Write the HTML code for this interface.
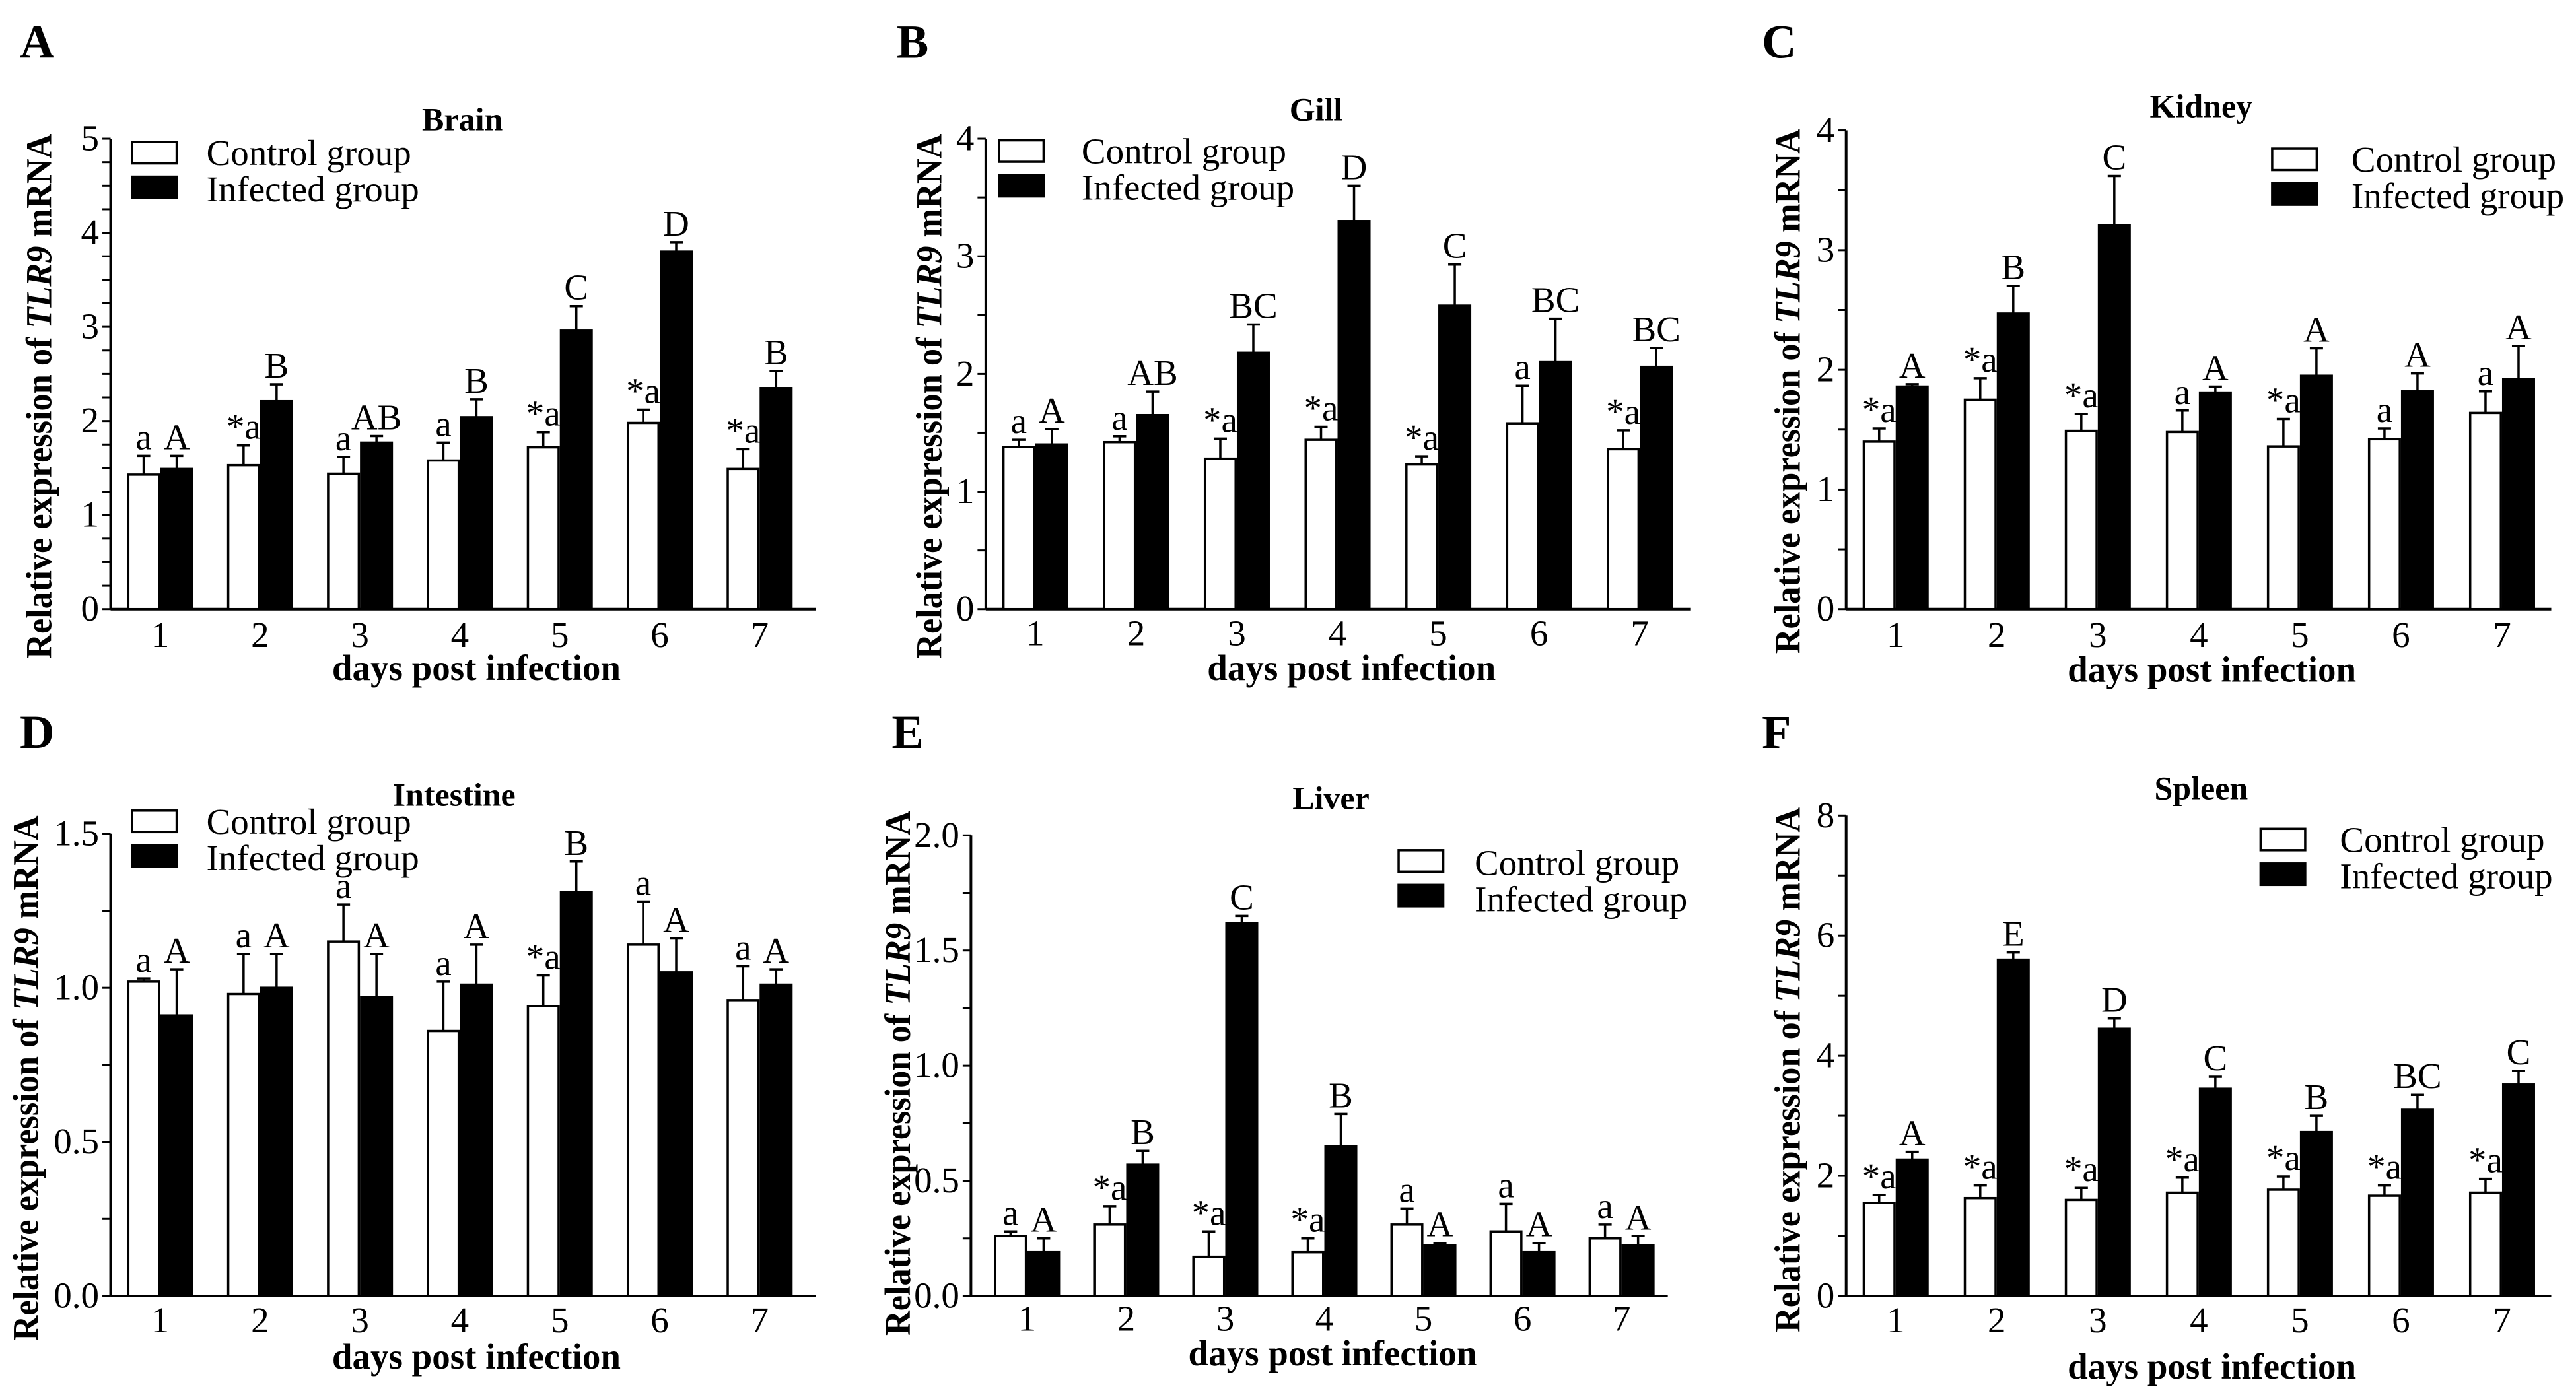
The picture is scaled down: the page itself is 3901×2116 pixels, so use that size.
<!DOCTYPE html>
<html><head><meta charset="utf-8"><style>
html,body{margin:0;padding:0;background:#fff;}
svg, svg text{font-family:"Liberation Serif","Times New Roman",Times,"DejaVu Serif",serif;}
</style></head><body>
<svg id="fig" width="3901" height="2111" viewBox="0 0 1560 844.2" preserveAspectRatio="none" xmlns="http://www.w3.org/2000/svg"></svg>
<script>
const days = ["1","2","3","4","5","6","7"];
const brainControl = [1.43,1.53,1.44,1.58,1.72,1.98,1.49];
const brainControlErr = [1.63,1.74,1.62,1.77,1.88,2.12,1.70];
const brainInfected = [1.49,2.21,1.77,2.04,2.96,3.80,2.35];
const brainInfectedErr = [1.63,2.39,1.84,2.23,3.22,3.90,2.53];
const brainControlLbl = ["a","*a","a","a","*a","*a","*a"];
const brainInfectedLbl = ["A","B","AB","B","C","D","B"];

const gillControl = [1.38,1.42,1.28,1.44,1.23,1.58,1.36];
const gillControlErr = [1.44,1.47,1.45,1.55,1.30,1.90,1.52];
const gillInfected = [1.40,1.65,2.18,3.30,2.58,2.10,2.06];
const gillInfectedErr = [1.53,1.85,2.42,3.60,2.93,2.47,2.22];
const gillControlLbl = ["a","a","*a","*a","*a","a","*a"];
const gillInfectedLbl = ["A","AB","BC","D","C","BC","BC"];

const kidneyControl = [1.40,1.75,1.49,1.48,1.36,1.42,1.64];
const kidneyControlErr = [1.51,1.93,1.63,1.66,1.59,1.51,1.82];
const kidneyInfected = [1.86,2.47,3.21,1.81,1.95,1.82,1.92];
const kidneyInfectedErr = [1.88,2.70,3.62,1.86,2.18,1.97,2.20];
const kidneyControlLbl = ["*a","*a","*a","a","*a","a","a"];
const kidneyInfectedLbl = ["A","B","C","A","A","A","A"];

const intestineControl = [1.02,0.98,1.15,0.86,0.94,1.14,0.96];
const intestineControlErr = [1.03,1.11,1.27,1.02,1.04,1.28,1.07];
const intestineInfected = [0.91,1.00,0.97,1.01,1.31,1.05,1.01];
const intestineInfectedErr = [1.06,1.11,1.11,1.14,1.41,1.16,1.06];
const intestineControlLbl = ["a","a","a","a","*a","a","a"];
const intestineInfectedLbl = ["A","A","A","A","B","A","A"];

const liverControl = [0.26,0.31,0.17,0.19,0.31,0.28,0.25];
const liverControlErr = [0.28,0.39,0.28,0.25,0.38,0.40,0.31];
const liverInfected = [0.19,0.57,1.62,0.65,0.22,0.19,0.22];
const liverInfectedErr = [0.25,0.63,1.65,0.79,0.23,0.23,0.26];
const liverControlLbl = ["a","*a","*a","*a","a","a","a"];
const liverInfectedLbl = ["A","B","C","B","A","A","A"];

const spleenControl = [1.55,1.63,1.60,1.72,1.77,1.67,1.72];
const spleenControlErr = [1.68,1.84,1.80,1.97,1.99,1.84,1.95];
const spleenInfected = [2.27,5.60,4.45,3.45,2.73,3.10,3.52];
const spleenInfectedErr = [2.40,5.72,4.62,3.65,3.00,3.35,3.75];
const spleenControlLbl = ["*a","*a","*a","*a","*a","*a","*a"];
const spleenInfectedLbl = ["A","E","D","C","B","BC","C"];

const brainTicks = ["0","1","2","3","4","5"];
const gillTicks = ["0","1","2","3","4"];
const kidneyTicks = ["0","1","2","3","4"];
const intestineTicks = ["0.0","0.5","1.0","1.5"];
const liverTicks = ["0.0","0.5","1.0","1.5","2.0"];
const spleenTicks = ["0","2","4","6","8"];

const NS="http://www.w3.org/2000/svg";
const svg=document.getElementById('fig');
function mk(tag,attrs,parent){const e=document.createElementNS(NS,tag);for(const k in attrs)e.setAttribute(k,attrs[k]);if(tag==='text'){e.style.fontFamily='"Liberation Serif","Times New Roman",Times,"DejaVu Serif",serif';}(parent||svg).appendChild(e);return e;}

const panels=[
 {key:"brain",letter:"A",title:"Brain",ax:67,top:84,bot:369,right:494,c0:97,dc:60.5,ymax:5,minor:0.25,ticks:brainTicks,
  c:brainControl,ce:brainControlErr,i:brainInfected,ie:brainInfectedErr,cl:brainControlLbl,il:brainInfectedLbl,
  lx:31,lyc:240,lbx:80,lby:86,ltx:125,lty:93,titleX:280,titleY:79,letX:12,letY:35,tickY:392,xlY:412},
 {key:"gill",letter:"B",title:"Gill",ax:597,top:84,bot:369,right:1024,c0:627,dc:61,ymax:4,minor:0.5,ticks:gillTicks,
  c:gillControl,ce:gillControlErr,i:gillInfected,ie:gillInfectedErr,cl:gillControlLbl,il:gillInfectedLbl,
  lx:570,lyc:240,lbx:605,lby:85,ltx:655,lty:92,titleX:797,titleY:73,letX:543,letY:35,tickY:391,xlY:412},
 {key:"kidney",letter:"C",title:"Kidney",ax:1118,top:79,bot:369,right:1545,c0:1148,dc:61.2,ymax:4,minor:0.5,ticks:kidneyTicks,
  c:kidneyControl,ce:kidneyControlErr,i:kidneyInfected,ie:kidneyInfectedErr,cl:kidneyControlLbl,il:kidneyInfectedLbl,
  lx:1090,lyc:237,lbx:1376,lby:90,ltx:1424,lty:97,titleX:1333,titleY:71,letX:1067,letY:35,tickY:392,xlY:413},
 {key:"intestine",letter:"D",title:"Intestine",ax:67,top:505,bot:785,right:494,c0:97,dc:60.5,ymax:1.5,minor:0.25,ticks:intestineTicks,
  c:intestineControl,ce:intestineControlErr,i:intestineInfected,ie:intestineInfectedErr,cl:intestineControlLbl,il:intestineInfectedLbl,
  lx:23,lyc:653,lbx:80,lby:491,ltx:125,lty:498,titleX:275,titleY:488,letX:12,letY:453,tickY:807,xlY:829},
 {key:"liver",letter:"E",title:"Liver",ax:588,top:506,bot:785,right:1010,c0:622,dc:60,ymax:2.0,minor:0.25,ticks:liverTicks,
  c:liverControl,ce:liverControlErr,i:liverInfected,ie:liverInfectedErr,cl:liverControlLbl,il:liverInfectedLbl,
  lx:551,lyc:650,lbx:847,lby:515,ltx:893,lty:523,titleX:806,titleY:490,letX:540,letY:453,tickY:806,xlY:827},
 {key:"spleen",letter:"F",title:"Spleen",ax:1118,top:494,bot:785,right:1545,c0:1148,dc:61.2,ymax:8,minor:1,ticks:spleenTicks,
  c:spleenControl,ce:spleenControlErr,i:spleenInfected,ie:spleenInfectedErr,cl:spleenControlLbl,il:spleenInfectedLbl,
  lx:1090,lyc:648,lbx:1369,lby:502,ltx:1417,lty:509,titleX:1333,titleY:484,letX:1067,letY:453,tickY:807,xlY:835}
];

panels.forEach(p=>{
  const g=mk('g',{});
  
  
  const y=v=>p.bot-(v/p.ymax)*(p.bot-p.top);
  const xc=k=>p.c0+k*p.dc;
  const bw=20;
  const L=mk('text',{x:p.letX,y:p.letY,'font-size':29,'font-weight':'bold'},g);L.textContent=p.letter;
  
  const T=mk('text',{x:p.titleX,y:p.titleY,'font-size':20,'font-weight':'bold','text-anchor':'middle'},g);T.textContent=p.title;
  
  const ya=mk('line',{x1:p.ax,y1:p.top,x2:p.ax,y2:p.bot,stroke:'#000','stroke-width':1.6},g);
  
  const xa=mk('line',{x1:p.ax,y1:p.bot,x2:p.right,y2:p.bot,stroke:'#000','stroke-width':1.6},g);
  
  for(let v=0;v<=p.ymax+1e-9;v+=p.minor){
    mk('line',{x1:p.ax-5,y1:y(v),x2:p.ax,y2:y(v),stroke:'#000','stroke-width':1.2},g);
  }
  const step=p.ymax/(p.ticks.length-1);
  p.ticks.forEach((t,k)=>{
    const tt=mk('text',{x:p.ax-7,y:y(k*step)+7,'font-size':22,'text-anchor':'end'},g);tt.textContent=t;
    
  });
  const yl=mk('text',{transform:`translate(${p.lx},${p.lyc}) rotate(-90)`,'font-size':22,'font-weight':'bold','text-anchor':'middle',textLength:318,lengthAdjust:'spacingAndGlyphs'},g);
  yl.appendChild(document.createTextNode('Relative expression of '));
  const ts=document.createElementNS(NS,'tspan');ts.setAttribute('font-style','italic');ts.textContent='TLR9';yl.appendChild(ts);
  yl.appendChild(document.createTextNode(' mRNA'));
  
  const xl=mk('text',{x:(p.ax+p.right)/2+8,y:p.xlY,'font-size':22,'font-weight':'bold','text-anchor':'middle'},g);xl.textContent='days post infection';
  
  days.forEach((d,k)=>{
    const dt=mk('text',{x:xc(k),y:p.tickY,'font-size':22,'text-anchor':'middle'},g);dt.textContent=d;
    
    [[p.c,p.ce,p.cl,'#fff',-bw,'control'],[p.i,p.ie,p.il,'#000',0,'infected']].forEach(s=>{
      const v=s[0][k],e=s[1][k],x0=xc(k)+s[4];
      const ec=x0+bw/2;
      const el=mk('line',{x1:ec,y1:y(v),x2:ec,y2:y(e),stroke:'#000','stroke-width':1.4},g);
      
      mk('line',{x1:ec-4,y1:y(e),x2:ec+4,y2:y(e),stroke:'#000','stroke-width':1.4},g);
      const r=mk('rect',{x:x0+0.7,y:y(v),width:bw-1.4,height:p.bot-y(v),fill:s[3],stroke:'#000','stroke-width':1.4},g);
      
      const lt=mk('text',{x:ec,y:y(e)-4,'font-size':22,'text-anchor':'middle'},g);lt.textContent=s[2][k];
      
    });
  });
  const lg=mk('g',{},g);
  
  const r1=mk('rect',{x:p.lbx,y:p.lby,width:27,height:13,fill:'#fff',stroke:'#000','stroke-width':1.4},lg);
  
  const r2=mk('rect',{x:p.lbx,y:p.lby+21,width:27,height:13,fill:'#000',stroke:'#000','stroke-width':1.4},lg);
  
  const t1=mk('text',{x:p.ltx,y:p.lty+7,'font-size':22},lg);t1.textContent='Control group';
  
  const t2=mk('text',{x:p.ltx,y:p.lty+29,'font-size':22},lg);t2.textContent='Infected group';
  
});
</script>
</body></html>
